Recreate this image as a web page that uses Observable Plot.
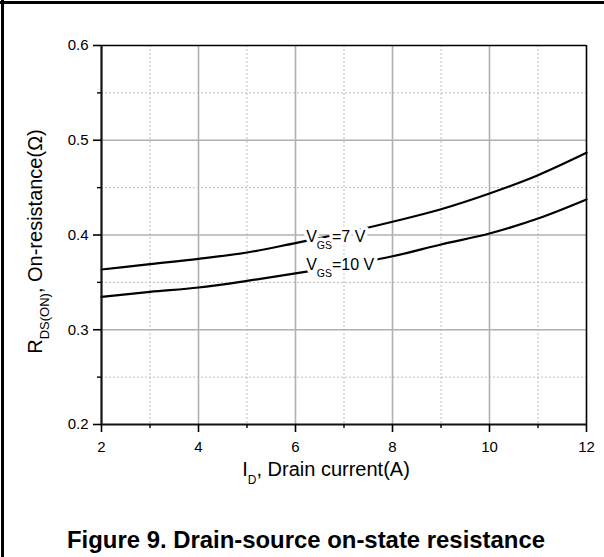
<!DOCTYPE html>
<html>
<head>
<meta charset="utf-8">
<script src="https://cdn.jsdelivr.net/npm/d3@7"></script>
<script src="https://cdn.jsdelivr.net/npm/@observablehq/plot@0.6"></script>
<style>
  html, body { margin: 0; padding: 0; background: #fff; }
  #page { position: relative; width: 604px; height: 557px; overflow: hidden; font-family: "Liberation Sans", Arial, sans-serif; }
  #btop { position: absolute; left: 0; top: 1px; width: 604px; height: 3px; background: #000; }
  #bleft { position: absolute; left: 1px; top: 0; width: 3px; height: 557px; background: #000; }
  #chart { position: absolute; left: 0; top: 0; }
  #caption { position: absolute; left: 67px; top: 528px; font-weight: bold; font-size: 23.9px; line-height: 1; white-space: nowrap; color: #000; }
</style>
</head>
<body>
<div id="page">
  <div id="chart"></div>
  <div id="btop"></div>
  <div id="bleft"></div>
  <div id="caption">Figure 9. Drain-source on-state resistance</div>
</div>
<script>
// ---- data ----
const drainCurrent = [2, 3, 4, 5, 6, 7, 8, 9, 10, 11, 12];
const rdsVgs7  = [0.3636, 0.3692, 0.3748, 0.3815, 0.3915, 0.4020, 0.4140, 0.4272, 0.4438, 0.4631, 0.4867];
const rdsVgs10 = [0.3347, 0.3400, 0.3446, 0.3516, 0.3595, 0.3680, 0.3776, 0.3900, 0.4016, 0.4174, 0.4375];
const seriesNames = ["VGS=7 V", "VGS=10 V"];
const xTicksMajor = [2, 4, 6, 8, 10, 12];
const xTicksMinor = [3, 5, 7, 9, 11];
const yTicksMajor = [0.2, 0.3, 0.4, 0.5, 0.6];
const yTicksMinor = [0.25, 0.35, 0.45, 0.55];
const labelX = [6.22, 6.22];
const labelY = [0.3924, 0.3629];
const labelParts = [["V", "GS", "=7 V"], ["V", "GS", "=10 V"]];

const rows = [];
drainCurrent.forEach((x, i) => rows.push({x, y: rdsVgs7[i], s: seriesNames[0]}));
drainCurrent.forEach((x, i) => rows.push({x, y: rdsVgs10[i], s: seriesNames[1]}));
const labelRows = labelParts.map((p, i) => ({x: labelX[i], y: labelY[i], t: p.join("|")}));

const font = "Liberation Sans, Arial, sans-serif";
const inner = (arr) => arr.slice(1, -1);
const xMin = xTicksMajor[0], xMax = xTicksMajor[xTicksMajor.length - 1];
const yMin = yTicksMajor[0], yMax = yTicksMajor[yTicksMajor.length - 1];

const plot = Plot.plot({
  width: 604,
  height: 500,
  marginLeft: 101,
  marginRight: 18,
  marginTop: 45,
  marginBottom: 76,
  style: {fontFamily: font, fontSize: "15px", background: "transparent", overflow: "visible"},
  x: {domain: [xMin, xMax]},
  y: {domain: [yMin, yMax]},
  marks: [
    Plot.gridX(xTicksMinor, {stroke: "#bdbdbd", strokeOpacity: 1, strokeWidth: 1, strokeDasharray: "2,2"}),
    Plot.gridY(yTicksMinor, {stroke: "#bdbdbd", strokeOpacity: 1, strokeWidth: 1, strokeDasharray: "2,2"}),
    Plot.gridX(inner(xTicksMajor), {stroke: "#b0b0b0", strokeOpacity: 1, strokeWidth: 1.6}),
    Plot.gridY(inner(yTicksMajor), {stroke: "#b0b0b0", strokeOpacity: 1, strokeWidth: 1.6}),
    Plot.line(rows, {x: "x", y: "y", z: "s", stroke: "#000", strokeWidth: 2.2, curve: "monotone-x"}),
    Plot.text(labelRows, {x: "x", y: "y", text: "t", textAnchor: "start", lineAnchor: "bottom",
      fontSize: 16, fill: "#000", stroke: "#fff", strokeWidth: 7}),
    Plot.ruleY([yMax], {stroke: "#000", strokeWidth: 1.6}),
    Plot.ruleX([xMax], {stroke: "#000", strokeWidth: 1.6}),
    Plot.ruleY([yMin], {stroke: "#111", strokeWidth: 2.2}),
    Plot.ruleX([xMin], {stroke: "#111", strokeWidth: 2.2}),
    Plot.axisX(xTicksMajor, {tickSize: 8, tickFormat: () => "", label: null, strokeWidth: 1.6, stroke: "#000"}),
    Plot.axisX(xTicksMinor, {tickSize: 4, tickFormat: () => "", label: null, strokeWidth: 1.4, stroke: "#000"}),
    Plot.axisY(yTicksMajor, {tickSize: 8, tickFormat: () => "", label: null, strokeWidth: 1.6, stroke: "#000"}),
    Plot.axisY(yTicksMinor, {tickSize: 4, tickFormat: () => "", label: null, strokeWidth: 1.4, stroke: "#000"}),
    // tick labels
    Plot.text(xTicksMajor, {x: d => d, y: () => yMin, dy: 16.5, lineAnchor: "top", fontSize: 15, fill: "#000",
      text: d => String(d)}),
    Plot.text(yTicksMajor, {x: () => xMin, y: d => d, dx: -13, textAnchor: "end", lineAnchor: "middle", fontSize: 15, fill: "#000",
      text: d => d3.format(".1f")(d)})
  ]
});

document.getElementById("chart").appendChild(plot);
const svg = d3.select(plot);

// rebuild the curve labels with subscripts
svg.selectAll("text").each(function () {
  const t = this.textContent;
  if (t.indexOf("|") < 0) return;
  const parts = t.split("|");
  const el = d3.select(this);
  el.text(null);
  el.append("tspan").text(parts[0]);
  el.append("tspan").attr("font-size", 10.5).attr("dy", 7).text(parts[1]);
  el.append("tspan").attr("dy", -7).text(parts[2]);
});

// axis titles
const ys = plot.scale("y");
const xt = svg.append("text")
  .attr("x", 326).attr("y", 476)
  .attr("text-anchor", "middle")
  .attr("font-family", font).attr("font-size", 20).attr("fill", "#000");
xt.append("tspan").text("I");
xt.append("tspan").attr("font-size", 12).attr("dy", 8).text("D");
xt.append("tspan").attr("dy", -8).text(", Drain current(A)");

const cy = (ys.apply(yMin) + ys.apply(yMax)) / 2 + 7;
const yt = svg.append("text")
  .attr("transform", `translate(42,${cy}) rotate(-90)`)
  .attr("text-anchor", "middle")
  .attr("font-family", font).attr("font-size", 20).attr("fill", "#000");
yt.append("tspan").text("R");
yt.append("tspan").attr("font-size", 13).attr("dy", 7).text("DS(ON)");
yt.append("tspan").attr("dy", -7).text(", On-resistance(Ω)");
</script>
</body>
</html>
